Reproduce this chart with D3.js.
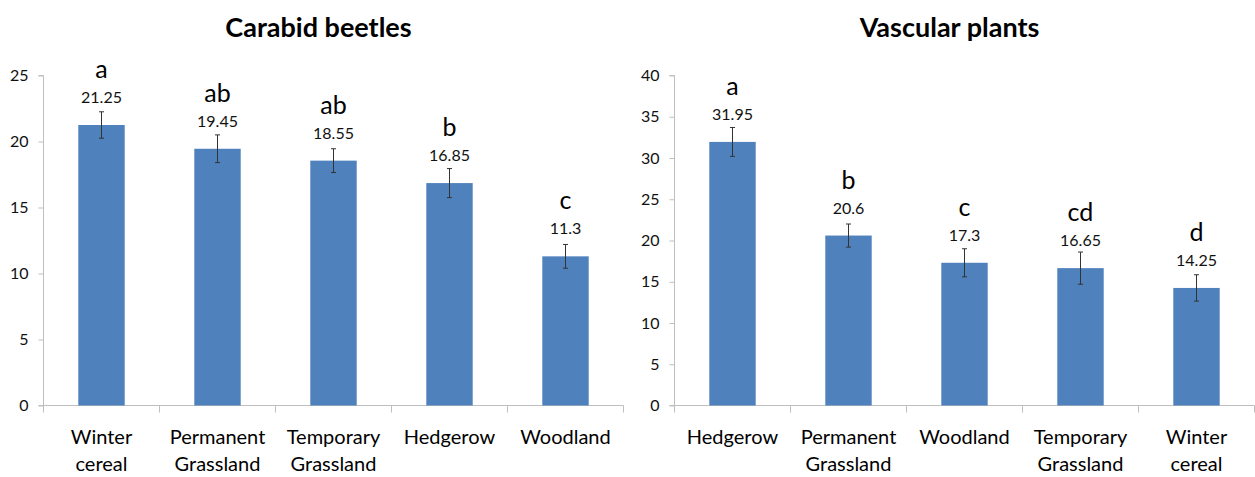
<!DOCTYPE html>
<html>
<head>
<meta charset="utf-8">
<script src="https://cdn.jsdelivr.net/npm/d3@7"></script>
<style>
  html, body { margin: 0; padding: 0; background: #fff; }
  svg { display: block; font-family: Lato, "Open Sans", sans-serif; }
</style>
</head>
<body>
<svg id="chart" width="1255" height="477"></svg>
<script>
// ---- Data ----
const beetleCategories = [["Winter", "cereal"], ["Permanent", "Grassland"], ["Temporary", "Grassland"], ["Hedgerow"], ["Woodland"]];
const beetleValues = [21.25, 19.45, 18.55, 16.85, 11.3];
const beetleErrors = [1.0, 1.05, 0.9, 1.1, 0.9];
const beetleLetters = ["a", "ab", "ab", "b", "c"];
const beetleTicks = [0, 5, 10, 15, 20, 25];

const plantCategories = [["Hedgerow"], ["Permanent", "Grassland"], ["Woodland"], ["Temporary", "Grassland"], ["Winter", "cereal"]];
const plantValues = [31.95, 20.6, 17.3, 16.65, 14.25];
const plantErrors = [1.75, 1.4, 1.7, 1.95, 1.6];
const plantLetters = ["a", "b", "c", "cd", "d"];
const plantTicks = [0, 5, 10, 15, 20, 25, 30, 35, 40];

const titles = ["Carabid beetles", "Vascular plants"];

// ---- Drawing ----
const svg = d3.select("#chart");
const barColor = "#4f81bd";
const axisColor = "#bfbfbf";

function panel(opts) {
  const g = svg.append("g");
  const x = d3.scaleBand()
    .domain(d3.range(opts.cats.length))
    .range([opts.x0, opts.x1])
    .paddingInner(0.6).paddingOuter(0.3);
  const y = d3.scaleLinear().domain([0, opts.max]).range([opts.yBottom, opts.yTop]);

  // title
  g.append("text")
    .attr("x", (opts.x0 + opts.x1) / 2 - 15)
    .attr("y", 37)
    .attr("text-anchor", "middle")
    .attr("font-size", 27)
    .attr("font-weight", "bold")
    .attr("fill", "#000")
    .text(opts.title);

  // y axis
  const yAxis = d3.axisLeft(y).tickValues(opts.ticks).tickSize(5).tickPadding(10);
  const ya = g.append("g").attr("transform", `translate(${opts.x0},0)`).call(yAxis);
  ya.select(".domain").attr("stroke", axisColor).attr("d", `M-5,${opts.yTop}H0V${opts.yBottom}`);
  ya.selectAll(".tick line").attr("stroke", axisColor);
  ya.selectAll(".tick text").attr("font-size", 16).attr("fill", "#111").attr("font-family", "Lato, sans-serif");

  // x axis line + category separators
  const band = (opts.x1 - opts.x0) / opts.cats.length;
  const sep = d3.range(opts.cats.length + 1).map(i => opts.x0 + i * band);
  g.append("line")
    .attr("x1", opts.x0 - 5).attr("x2", opts.x1)
    .attr("y1", opts.yBottom).attr("y2", opts.yBottom)
    .attr("stroke", axisColor).attr("stroke-width", 1);
  g.selectAll("line.sep").data(sep).enter().append("line")
    .attr("class", "sep")
    .attr("x1", d => d).attr("x2", d => d)
    .attr("y1", opts.yBottom).attr("y2", opts.yBottom + 7)
    .attr("stroke", axisColor);

  // bars
  g.selectAll("rect.bar").data(opts.values).enter().append("rect")
    .attr("class", "bar")
    .attr("x", (d, i) => x(i))
    .attr("width", x.bandwidth())
    .attr("y", d => y(d))
    .attr("height", d => y(0) - y(d))
    .attr("fill", barColor);

  // error bars
  const cx = i => x(i) + x.bandwidth() / 2;
  const eg = g.selectAll("g.err").data(opts.values).enter().append("g").attr("class", "err");
  eg.append("line")
    .attr("x1", (d, i) => cx(i)).attr("x2", (d, i) => cx(i))
    .attr("y1", (d, i) => y(d + opts.errors[i])).attr("y2", (d, i) => y(d - opts.errors[i]))
    .attr("stroke", "#333").attr("stroke-width", 1);
  [1, -1].forEach(s => {
    eg.append("line")
      .attr("x1", (d, i) => cx(i) - 2.5).attr("x2", (d, i) => cx(i) + 2.5)
      .attr("y1", (d, i) => y(d + s * opts.errors[i])).attr("y2", (d, i) => y(d + s * opts.errors[i]))
      .attr("stroke", "#333").attr("stroke-width", 1);
  });

  // value labels
  g.selectAll("text.val").data(opts.values).enter().append("text")
    .attr("class", "val")
    .attr("x", (d, i) => cx(i))
    .attr("y", d => y(d) - 22)
    .attr("text-anchor", "middle")
    .attr("font-size", 16)
    .attr("fill", "#111")
    .text(d => d);

  // significance letters
  g.selectAll("text.let").data(opts.letters).enter().append("text")
    .attr("class", "let")
    .attr("x", (d, i) => cx(i))
    .attr("y", (d, i) => y(opts.values[i]) - 47)
    .attr("text-anchor", "middle")
    .attr("font-size", 25)
    .attr("fill", "#000")
    .text(d => d);

  // category labels
  const cl = g.selectAll("text.cat").data(opts.cats).enter().append("text")
    .attr("class", "cat")
    .attr("x", (d, i) => cx(i))
    .attr("y", 444)
    .attr("text-anchor", "middle")
    .attr("font-size", 20)
    .attr("fill", "#000");
  cl.each(function(d, i) {
    d3.select(this).selectAll("tspan").data(d).enter().append("tspan")
      .attr("x", cx(i))
      .attr("dy", (t, j) => j === 0 ? 0 : 27)
      .text(t => t);
  });
}

panel({
  title: titles[0], cats: beetleCategories, values: beetleValues, errors: beetleErrors,
  letters: beetleLetters, ticks: beetleTicks, max: 25,
  x0: 43.5, x1: 623.5, yTop: 75.5, yBottom: 405.5
});
panel({
  title: titles[1], cats: plantCategories, values: plantValues, errors: plantErrors,
  letters: plantLetters, ticks: plantTicks, max: 40,
  x0: 674.5, x1: 1254.5, yTop: 75.5, yBottom: 405.5
});
</script>
</body>
</html>
